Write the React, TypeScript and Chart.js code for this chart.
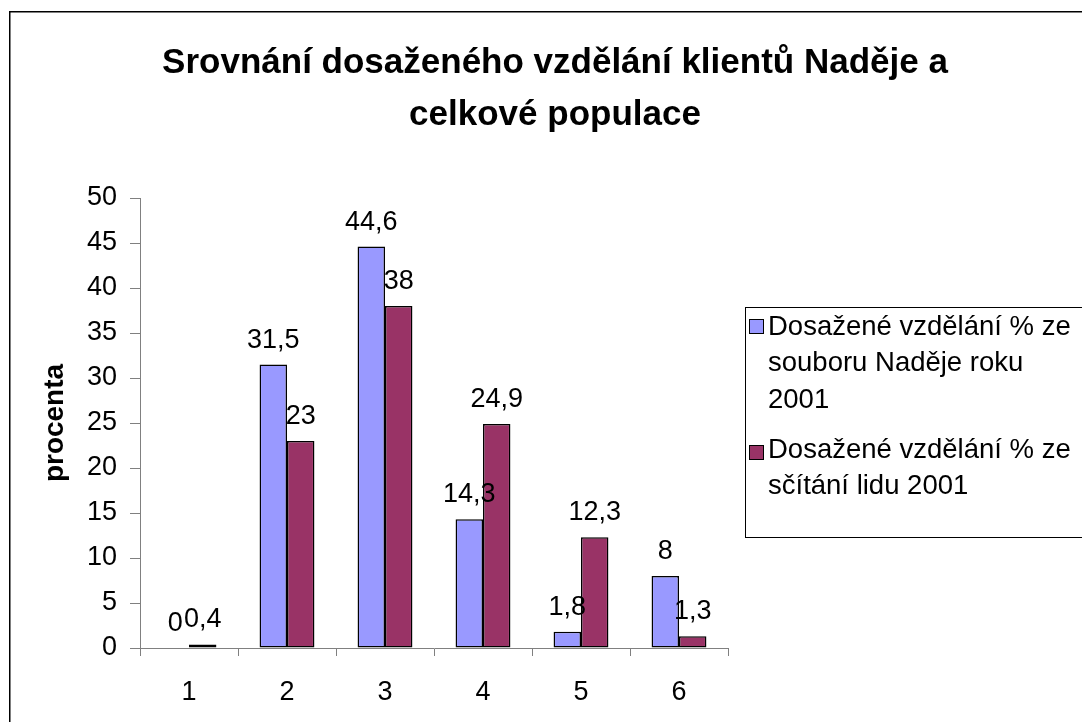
import React, { useEffect, useRef } from "react";
import { Chart, registerables } from "chart.js";

Chart.register(...registerables);

const categories = ["1", "2", "3", "4", "5", "6"];
const seriesNadeje = [0, 31.5, 44.6, 14.3, 1.8, 8];
const seriesScitani = [0.4, 23, 38, 24.9, 12.3, 1.3];
const seriesNadejeLines = ["Dosažené vzdělání % ze", "souboru Naděje roku", "2001"];
const seriesScitaniLines = ["Dosažené vzdělání % ze", "sčítání lidu 2001"];
const titleLines = ["Srovnání dosaženého vzdělání klientů Naděje a", "celkové populace"];
const yAxisTitle = "procenta";
const yMin = 0;
const yMax = 50;
const yStep = 5;

const FONT = '"Liberation Sans", Arial, Helvetica, sans-serif';

const framePlugin = {
  id: "frame",
  beforeDraw(chart: any) {
    const ctx = chart.ctx;
    ctx.save();
    ctx.fillStyle = "#ffffff";
    ctx.fillRect(0, 0, chart.width, chart.height);
    ctx.strokeStyle = "#000000";
    ctx.lineWidth = 1.5;
    ctx.strokeRect(9.75, 11.75, chart.width + 50, chart.height + 50);
    ctx.restore();
  },
};

const titlePlugin = {
  id: "customTitle",
  afterDraw(chart: any) {
    const ctx = chart.ctx;
    ctx.save();
    ctx.fillStyle = "#000";
    ctx.font = `bold 35px ${FONT}`;
    ctx.textAlign = "center";
    ctx.textBaseline = "alphabetic";
    ctx.fillText(titleLines[0], 555, 73);
    ctx.fillText(titleLines[1], 555, 125);
    ctx.restore();
  },
};

const valueLabelPlugin = {
  id: "valueLabels",
  afterDatasetsDraw(chart: any) {
    const ctx = chart.ctx;
    ctx.save();
    ctx.fillStyle = "#000";
    ctx.font = `27px ${FONT}`;
    ctx.textAlign = "center";
    ctx.textBaseline = "alphabetic";
    chart.data.datasets.forEach((ds: any, di: number) => {
      const meta = chart.getDatasetMeta(di);
      meta.data.forEach((el: any, i: number) => {
        const v = ds.data[i];
        const txt = String(v).replace(".", ",");
        ctx.fillText(txt, el.x, el.y - 17);
      });
    });
    ctx.restore();
  },
};

const legendPlugin = {
  id: "customLegend",
  afterDraw(chart: any) {
    const ctx = chart.ctx;
    ctx.save();
    ctx.strokeStyle = "#000";
    ctx.lineWidth = 1;
    ctx.strokeRect(745.5, 307.5, 400, 230);
    const entries = [
      { lines: seriesNadejeLines, color: chart.data.datasets[0].backgroundColor, markY: 319, textY: 327 },
      { lines: seriesScitaniLines, color: chart.data.datasets[1].backgroundColor, markY: 445, textY: 450 },
    ];
    ctx.font = `27.5px ${FONT}`;
    ctx.textAlign = "left";
    ctx.textBaseline = "middle";
    entries.forEach((e) => {
      ctx.fillStyle = e.color;
      ctx.fillRect(749, e.markY, 15, 15);
      ctx.strokeStyle = "#000";
      ctx.strokeRect(749.5, e.markY + 0.5, 14, 14);
      ctx.fillStyle = "#000";
      e.lines.forEach((l, k) => {
        ctx.fillText(l, 768, e.textY + k * 36.5);
      });
    });
    ctx.restore();
  },
};

export default function App() {
  const ref = useRef<HTMLCanvasElement | null>(null);
  useEffect(() => {
    document.body.style.margin = "0";
    if (!ref.current) return;
    const chart = new Chart(ref.current, {
      type: "bar",
      data: {
        labels: categories,
        datasets: [
          {
            label: seriesNadejeLines.join(" "),
            data: seriesNadeje,
            backgroundColor: "#9999FF",
            borderColor: "#000000",
            borderWidth: 1.5,
            borderSkipped: false,
            barPercentage: 1,
            categoryPercentage: 0.56,
          },
          {
            label: seriesScitaniLines.join(" "),
            data: seriesScitani,
            backgroundColor: "#993366",
            borderColor: "#000000",
            borderWidth: 1.5,
            borderSkipped: false,
            barPercentage: 1,
            categoryPercentage: 0.56,
          },
        ],
      },
      options: {
        responsive: false,
        animation: false,
        devicePixelRatio: 1,
        layout: { padding: { left: 0, top: 198, right: 354, bottom: 0 } },
        plugins: {
          legend: { display: false },
          title: { display: false },
          tooltip: { enabled: false },
        },
        scales: {
          x: {
            type: "category",
            grid: { drawOnChartArea: false, tickLength: 8, color: "#808080", offset: true },
            border: { color: "#808080", width: 1 },
            ticks: { color: "#000", font: { family: FONT, size: 27 }, padding: 20 },
            afterFit: (s: any) => {
              s.height = 74;
            },
          },
          y: {
            min: yMin,
            max: yMax,
            grid: { drawOnChartArea: false, tickLength: 10, color: "#808080" },
            border: { color: "#808080", width: 1 },
            ticks: { stepSize: yStep, color: "#000", font: { family: FONT, size: 27 }, padding: 13 },
            title: {
              display: true,
              text: yAxisTitle,
              color: "#000",
              font: { family: FONT, size: 28, weight: "bold" },
              padding: { top: 38, bottom: 0 },
            },
            afterFit: (s: any) => {
              s.width = 140;
            },
          },
        },
      },
      plugins: [framePlugin, titlePlugin, valueLabelPlugin, legendPlugin],
    });
    return () => chart.destroy();
  }, []);
  return (
    <div style={{ width: 1082, height: 722 }}>
      <canvas ref={ref} width={1082} height={722} style={{ display: "block" }} />
    </div>
  );
}
